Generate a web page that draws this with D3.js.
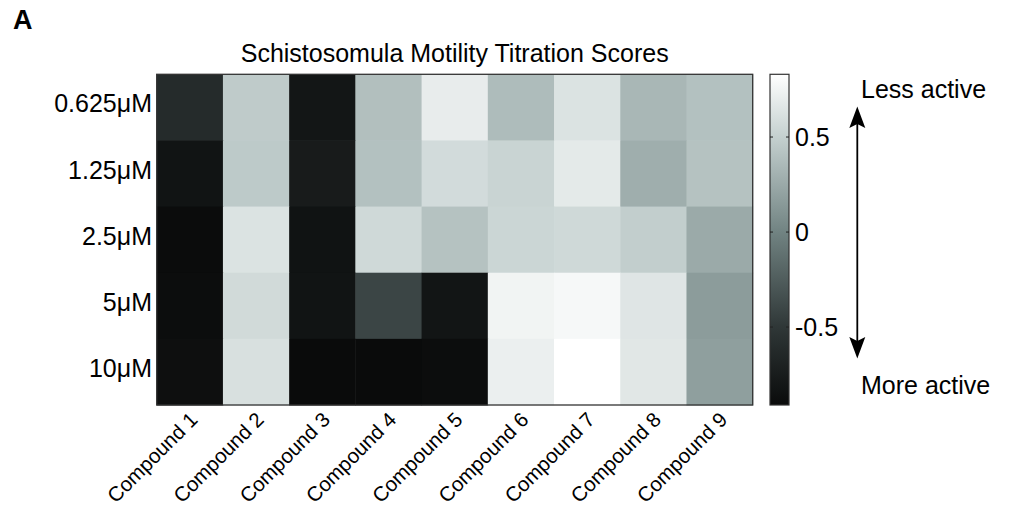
<!DOCTYPE html>
<html>
<head>
<meta charset="utf-8">
<script src="https://cdn.jsdelivr.net/npm/d3@7"></script>
<style>
  html, body { margin: 0; padding: 0; background: #fff; }
  text { font-family: "Liberation Sans", Arial, Helvetica, sans-serif; fill: #000; }
</style>
</head>
<body>
<svg id="chart" width="1009" height="508"></svg>
<script>
// ---- data ----
const compounds = ["Compound 1","Compound 2","Compound 3","Compound 4","Compound 5","Compound 6","Compound 7","Compound 8","Compound 9"];
const concentrations = ["0.625μM","1.25μM","2.5μM","5μM","10μM"];
const scores_0625 = [-0.61, 0.47, -0.81, 0.39, 0.70, 0.37, 0.63, 0.34, 0.40];
const scores_125  = [-0.83, 0.46, -0.76, 0.40, 0.58, 0.53, 0.68, 0.28, 0.41];
const scores_25   = [-0.90, 0.63, -0.84, 0.56, 0.41, 0.54, 0.56, 0.49, 0.25];
const scores_5    = [-0.89, 0.57, -0.83, -0.41, -0.82, 0.75, 0.78, 0.65, 0.16];
const scores_10   = [-0.87, 0.61, -0.91, -0.91, -0.89, 0.72, 0.83, 0.66, 0.18];
const colorTicks = [0.5, 0, -0.5];
const colorTickLabels = ["0.5", "0", "-0.5"];
const colorDomain = [-0.91, 0.83];
const colorStops = [-0.91, -0.5, 0, 0.5, 0.83];
const colorStopColors = ["#0a0b0b", "#2f3737", "#718382", "#c4d0cf", "#ffffff"];

const rows = [scores_0625, scores_125, scores_25, scores_5, scores_10];

const svg = d3.select("#chart");
const M = { left: 156.7, right: 752.7, top: 74.3, bottom: 405 };

const x = d3.scaleBand().domain(compounds).range([M.left, M.right]).padding(0);
const y = d3.scaleBand().domain(concentrations).range([M.top, M.bottom]).padding(0);
const color = d3.scaleLinear().domain(colorStops).range(colorStopColors).clamp(true);

const cells = [];
rows.forEach((r, i) => r.forEach((v, j) => cells.push({ c: compounds[j], k: concentrations[i], v })));

svg.append("g").selectAll("rect").data(cells).join("rect")
  .attr("x", d => x(d.c))
  .attr("y", d => y(d.k))
  .attr("width", x.bandwidth() + 0.5)
  .attr("height", y.bandwidth() + 0.5)
  .attr("fill", d => color(d.v));

svg.append("rect")
  .attr("x", M.left).attr("y", M.top)
  .attr("width", M.right - M.left).attr("height", M.bottom - M.top)
  .attr("fill", "none").attr("stroke", "#333").attr("stroke-width", 1.3);

// panel letter
svg.append("text").attr("x", 13).attr("y", 28.5).attr("font-size", 27).attr("font-weight", "bold").text("A");

// title
svg.append("text").attr("x", (M.left + M.right) / 2).attr("y", 62)
  .attr("text-anchor", "middle").attr("font-size", 25)
  .text("Schistosomula Motility Titration Scores");

// y labels
svg.append("g").selectAll("text").data(concentrations).join("text")
  .attr("x", 152)
  .attr("y", d => y(d) + y.bandwidth() / 2 + 5)
  .attr("text-anchor", "end").attr("font-size", 25)
  .text(d => d);

// x labels
svg.append("g").selectAll("text").data(compounds).join("text")
  .attr("transform", d => `translate(${x(d) + x.bandwidth() / 2 + 9},${M.bottom + 16}) rotate(-45)`)
  .attr("text-anchor", "end").attr("font-size", 20.5)
  .text(d => d);

// colorbar
const cb = { x: 770, w: 19, top: 74.3, bottom: 405 };
const cy = d3.scaleLinear().domain(colorDomain).range([cb.bottom, cb.top]);
const defs = svg.append("defs");
const grad = defs.append("linearGradient").attr("id", "cbgrad")
  .attr("x1", 0).attr("y1", 1).attr("x2", 0).attr("y2", 0);
colorStops.forEach((s, i) => {
  grad.append("stop")
    .attr("offset", (s - colorDomain[0]) / (colorDomain[1] - colorDomain[0]))
    .attr("stop-color", colorStopColors[i]);
});
svg.append("rect").attr("x", cb.x).attr("y", cb.top).attr("width", cb.w).attr("height", cb.bottom - cb.top)
  .attr("fill", "url(#cbgrad)").attr("stroke", "#333").attr("stroke-width", 1.2);

const tg = svg.append("g");
colorTicks.forEach(t => {
  tg.append("line").attr("x1", cb.x).attr("x2", cb.x + 3).attr("y1", cy(t)).attr("y2", cy(t)).attr("stroke", "#222");
  tg.append("line").attr("x1", cb.x + cb.w - 3).attr("x2", cb.x + cb.w).attr("y1", cy(t)).attr("y2", cy(t)).attr("stroke", "#222");
});
tg.selectAll("text").data(colorTicks).join("text")
  .attr("x", 795).attr("y", d => cy(d) + 8.5)
  .attr("font-size", 25)
  .text((d, i) => colorTickLabels[i]);

// arrow
const ax = 857.3;
svg.append("line").attr("x1", ax).attr("x2", ax).attr("y1", 120).attr("y2", 345)
  .attr("stroke", "#000").attr("stroke-width", 1.8);
svg.append("path").attr("d", `M${ax},106.5 L${ax - 8},128 L${ax},124 L${ax + 8},128 Z`).attr("fill", "#000");
svg.append("path").attr("d", `M${ax},358.5 L${ax - 8},337 L${ax},341 L${ax + 8},337 Z`).attr("fill", "#000");

svg.append("text").attr("x", 861).attr("y", 97.5).attr("font-size", 25).text("Less active");
svg.append("text").attr("x", 861).attr("y", 393.5).attr("font-size", 25).text("More active");
</script>
</body>
</html>
